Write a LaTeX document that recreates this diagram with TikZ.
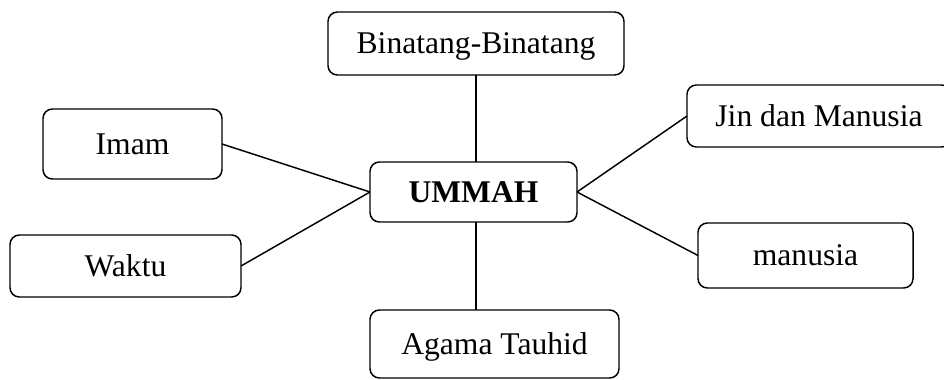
\documentclass[tikz,border=0pt]{standalone}
\usepackage{fontspec}
\setmainfont{Liberation Serif}
\begin{document}
\begin{tikzpicture}[x=0.75pt,y=-0.75pt,
  box/.style={draw,line width=1.1pt,rounded corners=7pt,inner sep=0pt,outer sep=0pt,
    align=center,font=\fontsize{23.7}{28}\selectfont,text height=15.7pt,text depth=0pt},
  link/.style={line width=1.1pt}]
\useasboundingbox (0,0) rectangle (944,379);
\clip (0,0) rectangle (944,379);
\node[box,minimum width=222pt,minimum height=47.25pt] (bin) at (476,43.5) {Binatang-Binatang};
\node[box,minimum width=134.25pt,minimum height=52.5pt] (imam) at (132.5,144) {Imam};
\node[box,minimum width=173.25pt,minimum height=46.5pt] (waktu) at (125.5,266) {Waktu};
\node[box,minimum width=155.25pt,minimum height=45pt,font=\fontsize{23.7}{28}\selectfont\bfseries] (umm) at (473.5,192) {UMMAH};
\node[box,minimum width=198pt,minimum height=46.5pt] (jin) at (819,116) {Jin dan Manusia};
\node[box,minimum width=161.25pt,minimum height=48.75pt] (man) at (805.5,255.5) {manusia};
\node[box,minimum width=186.75pt,minimum height=51pt] (aga) at (494.5,344) {Agama Tauhid};
\draw[link] (bin.south) -- (bin.south |- umm.north);
\draw[link] (umm.south -| bin.south) -- (aga.north -| bin.south);
\draw[link] (imam.east) -- (umm.west);
\draw[link] (waktu.east) -- (umm.west);
\draw[link] (umm.east) -- (jin.west);
\draw[link] (umm.east) -- (man.west);
\end{tikzpicture}
\end{document}
